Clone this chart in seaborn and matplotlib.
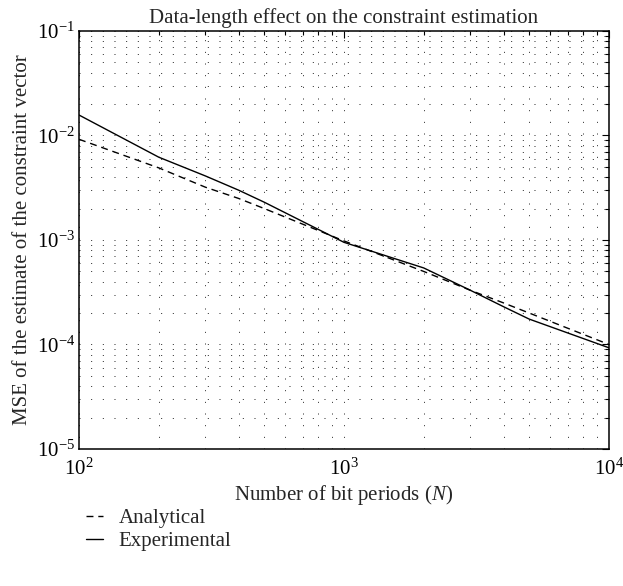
import matplotlib
matplotlib.use("Agg")
import matplotlib.pyplot as plt
import seaborn as sns
import pandas as pd
from matplotlib.ticker import LogLocator, NullFormatter

N = [100, 200, 300, 400, 500, 1000, 2000, 3000, 4000, 5000, 10000]
analytical = [0.0092, 0.0049, 0.0032, 0.0025, 0.0020, 0.00098, 0.00050, 0.00033, 0.00025, 0.00020, 0.0001]
experimental = [0.0157, 0.0062, 0.0041, 0.0030, 0.0023, 0.00095, 0.00054, 0.00033, 0.00023, 0.000175, 0.000093]

sns.set_theme(style="white")
plt.rcParams['font.family'] = ['Liberation Serif', 'DejaVu Serif']
plt.rcParams['mathtext.fontset'] = 'custom'
plt.rcParams['mathtext.rm'] = 'Liberation Serif'
plt.rcParams['mathtext.it'] = 'Liberation Serif:italic'

df = pd.DataFrame({
    "N": N * 2,
    "MSE": analytical + experimental,
    "series": ["Analytical"] * len(N) + ["Experimental"] * len(N),
})

fig = plt.figure(figsize=(6.23, 5.86), dpi=100)
ax = fig.add_axes([0.1268, 0.2338, 0.9775 - 0.1268, 0.9471 - 0.2338])

sns.lineplot(data=df[df.series == "Analytical"], x="N", y="MSE", ax=ax,
             color="black", linewidth=1.0, linestyle=(0, (5, 3.5)), label="Analytical")
sns.lineplot(data=df[df.series == "Experimental"], x="N", y="MSE", ax=ax,
             color="black", linewidth=1.0, linestyle="-", label="Experimental")

ax.set_xscale("log")
ax.set_yscale("log")
ax.set_xlim(100, 10000)
ax.set_ylim(1e-5, 1e-1)

ax.xaxis.set_major_locator(LogLocator(base=10, numticks=10))
ax.xaxis.set_minor_locator(LogLocator(base=10, subs=range(2, 10), numticks=100))
ax.yaxis.set_major_locator(LogLocator(base=10, numticks=10))
ax.yaxis.set_minor_locator(LogLocator(base=10, subs=range(2, 10), numticks=100))
ax.xaxis.set_minor_formatter(NullFormatter())
ax.yaxis.set_minor_formatter(NullFormatter())

ax.grid(True, which="both", color="#222222", linestyle=(0, (1, 11)), linewidth=0.7)
ax.tick_params(which="both", direction="in", top=True, right=True, colors="black",
               labelsize=15, width=0.8)
ax.tick_params(which="major", length=5)
ax.tick_params(which="minor", length=3)
ax.tick_params(axis="x", which="major", pad=7)
ax.tick_params(axis="y", which="major", pad=3)
for s in ax.spines.values():
    s.set_color("black")
    s.set_linewidth(1.1)

ax.set_title("Data-length effect on the constraint estimation", fontsize=15, pad=6)
ax.set_xlabel("Number of bit periods ($N$)", fontsize=15, labelpad=2)
ax.set_ylabel("MSE of the estimate of the constraint vector", fontsize=15, labelpad=3)

ax.legend(loc="upper left", bbox_to_anchor=(0.125, 0.146), bbox_transform=fig.transFigure,
          frameon=False, fontsize=15, handlelength=0.8, handletextpad=0.75,
          labelspacing=0.15, borderaxespad=0)

fig.savefig("out.png", dpi=100)
